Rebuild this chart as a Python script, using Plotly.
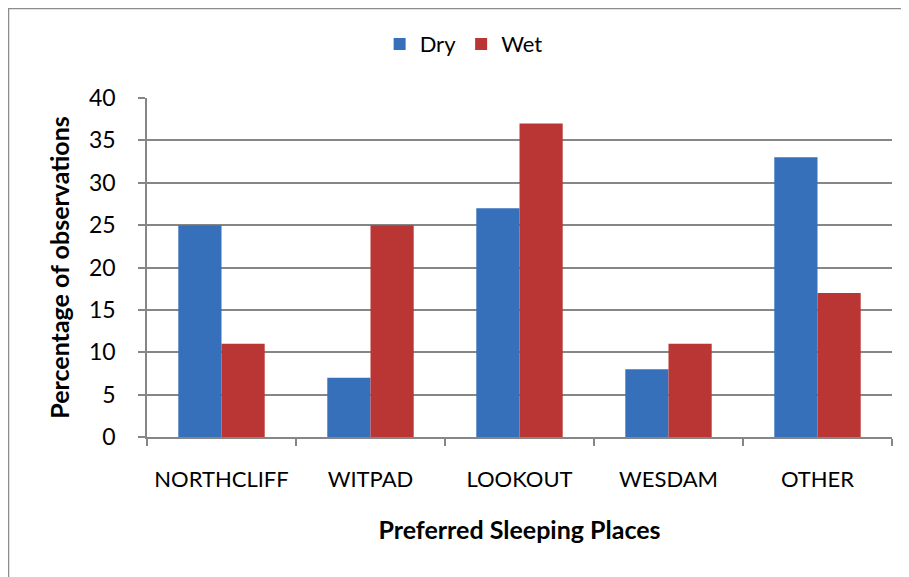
import plotly.graph_objects as go

places = ["NORTHCLIFF", "WITPAD", "LOOKOUT", "WESDAM", "OTHER"]
dry = [25, 7, 27, 8, 33]
wet = [11, 25, 37, 11, 17]
y_ticks = [0, 5, 10, 15, 20, 25, 30, 35, 40]

FONT = "Lato"
fig = go.Figure()
fig.add_trace(go.Bar(name="Dry", x=places, y=dry,
                     marker=dict(color="#3670BA", line=dict(width=0))))
fig.add_trace(go.Bar(name="Wet", x=places, y=wet,
                     marker=dict(color="#BA3634", line=dict(width=0))))

fig.update_layout(
    width=901, height=569,
    barmode="group", bargap=0.42, bargroupgap=0,
    plot_bgcolor="white", paper_bgcolor="white",
    margin=dict(l=139, r=17, t=90, b=140),
    font=dict(family=FONT, size=22, color="#000000"),
    legend=dict(orientation="h", x=0.425, xanchor="center", y=1.159, yanchor="middle",
                font=dict(size=22), itemwidth=30, traceorder="normal"),
    xaxis=dict(showgrid=False, showline=True, linecolor="#868686", linewidth=1.5,
               ticks="outside", tickson="boundaries", ticklen=7, tickcolor="#868686",
               tickwidth=1.5, tickfont=dict(size=22), ticklabelstandoff=22,
               title=dict(text="<b>Preferred Sleeping Places</b>", font=dict(size=25), standoff=30)),
    yaxis=dict(range=[0, 40], tickvals=y_ticks, showgrid=True, gridcolor="#868686",
               gridwidth=1.5, showline=True, linecolor="#868686", linewidth=1.5,
               ticks="outside", ticklen=7, tickcolor="#868686", tickwidth=1.5,
               tickfont=dict(size=23), zeroline=False, ticklabelstandoff=18,
               title=dict(text="<b>Percentage of observations</b>", font=dict(size=25), standoff=12)),
    shapes=[dict(type="rect", xref="paper", yref="paper", x0=-0.1859, x1=1.2, y0=-0.6, y1=1.264,
                 line=dict(color="#8C8C8C", width=1.5))],
)
fig.write_html("out.html")
